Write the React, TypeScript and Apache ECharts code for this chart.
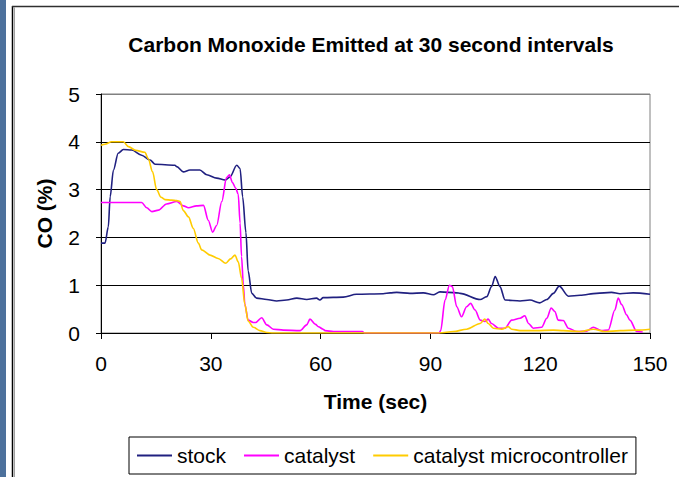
import React, { useEffect, useRef } from "react";
import * as echarts from "echarts";

const seriesNames = ["stock", "catalyst", "catalyst microcontroller"];

const stockTime = [0, 1.1, 2, 2.5, 3.4, 4.7, 6.1, 8.4, 11.1, 13.4, 14.8, 20.2, 20.7, 22.5, 24.3, 27, 28.9, 31.6, 33.9, 35.2, 37.1, 38, 38.7, 39.6, 40.2, 41.2, 42.5, 45.3, 48, 50.7, 53.5, 56.2, 58.9, 59.8, 60.7, 66.2, 69.8, 77.1, 79, 80.8, 84.4, 88.1, 90.8, 92.6, 97.2, 98.1, 103.6, 105.4, 106.7, 107.7, 109, 110.4, 114.5, 117.2, 119.9, 121.8, 123.6, 125.2, 127.7, 130.9, 135.4, 139.5, 141.8, 145.4, 150];
const stockCO = [1.88, 1.88, 2.22, 2.85, 3.41, 3.76, 3.84, 3.83, 3.72, 3.62, 3.53, 3.51, 3.48, 3.37, 3.41, 3.41, 3.31, 3.24, 3.2, 3.26, 3.51, 3.44, 2.85, 2.1, 1.3, 0.83, 0.73, 0.7, 0.67, 0.69, 0.73, 0.7, 0.73, 0.69, 0.74, 0.75, 0.81, 0.82, 0.84, 0.85, 0.83, 0.84, 0.8, 0.86, 0.84, 0.83, 0.7, 0.76, 0.97, 1.18, 0.97, 0.69, 0.67, 0.69, 0.63, 0.7, 0.83, 0.98, 0.77, 0.79, 0.83, 0.85, 0.82, 0.84, 0.81];

const catalystTime = [0, 11.1, 12.5, 13.9, 15.7, 17.9, 20.7, 22.5, 23.9, 26.1, 28, 29.3, 30.5, 31.6, 33, 34.3, 35.1, 35.9, 36.8, 37.5, 38, 38.4, 38.9, 39.3, 40.2, 41.6, 42.3, 43.9, 45.3, 47.1, 49.8, 54.4, 56.2, 57.1, 58.6, 59.4, 60.7, 61.2, 63.5, 71.4, 72, 92.4, 92.8, 94, 95.2, 96, 97.2, 98.5, 99.9, 101, 102.2, 103.6, 104.9, 105.8, 106.7, 108.6, 110.4, 112.2, 114.5, 115.8, 116.8, 118.1, 120.4, 121.8, 123, 124, 124.9, 126.3, 127.7, 130, 132.7, 134.5, 136.8, 138.6, 140.4, 141.3, 142.3, 143.6, 144.5, 146.4, 148];
const catalystCO = [2.73, 2.73, 2.62, 2.54, 2.57, 2.7, 2.75, 2.66, 2.62, 2.66, 2.67, 2.36, 2.11, 2.25, 2.75, 3.25, 3.31, 3.15, 3.03, 2.9, 2.3, 1.6, 1.0, 0.6, 0.27, 0.22, 0.22, 0.32, 0.17, 0.08, 0.06, 0.05, 0.17, 0.29, 0.18, 0.13, 0.08, 0.05, 0.03, 0.03, 0, 0, 0.05, 0.69, 1.0, 0.97, 0.55, 0.34, 0.55, 0.62, 0.48, 0.27, 0.24, 0.29, 0.2, 0.1, 0.1, 0.27, 0.31, 0.36, 0.2, 0.1, 0.12, 0.31, 0.52, 0.45, 0.27, 0.26, 0.1, 0.03, 0.04, 0.12, 0.05, 0.06, 0.48, 0.73, 0.59, 0.38, 0.27, 0.03, 0.02];

const microTime = [0, 1.1, 2.9, 6.1, 7.5, 9.5, 12, 12.9, 14.1, 15.2, 16.4, 17.5, 19.3, 20.7, 21.6, 22.5, 23.9, 25.2, 26.6, 27.5, 29.8, 32, 34.1, 35.4, 36.6, 37.5, 38.4, 39.3, 40.2, 41.6, 43.4, 45.3, 47, 92.5, 96.3, 99.9, 103.6, 104.9, 105.8, 107.2, 109.5, 111.3, 112.2, 114.5, 119, 123.6, 126.3, 130.9, 134.5, 137.8, 141.8, 146.4, 150];
const microCO = [3.93, 3.95, 4.0, 4.0, 3.9, 3.82, 3.78, 3.65, 3.37, 3.0, 2.84, 2.79, 2.78, 2.77, 2.75, 2.56, 2.43, 2.19, 1.88, 1.74, 1.63, 1.56, 1.46, 1.55, 1.63, 1.49, 1.15, 0.6, 0.25, 0.12, 0.05, 0.01, 0, 0, 0.03, 0.08, 0.2, 0.29, 0.2, 0.1, 0.08, 0.13, 0.08, 0.05, 0.05, 0.06, 0.05, 0.03, 0.08, 0.03, 0.05, 0.06, 0.08];

const seriesColors = ["#202080", "#ff00ff", "#ffcc00"];

const pairs = (t: number[], v: number[]) => t.map((x, i) => [x, v[i]]);

export default function App() {
  const ref = useRef<HTMLDivElement>(null);
  useEffect(() => {
    const chart = echarts.init(ref.current!, null, { renderer: "svg" });
    const font = "'Liberation Sans', Arial, sans-serif";
    const mk = (i: number, t: number[], v: number[]) => ({
      name: seriesNames[i],
      type: "line",
      data: pairs(t, v),
      symbol: "none",
      showSymbol: false,
      smooth: 0.3,
      smoothMonotone: "x",
      lineStyle: { color: seriesColors[i], width: 1.6 },
      itemStyle: { color: seriesColors[i] },
    });
    chart.setOption({
      animation: false,
      backgroundColor: "#ffffff",
      textStyle: { fontFamily: font },
      graphic: [
        { type: "rect", shape: { x: 0, y: 0, width: 6, height: 477 }, style: { fill: "#4d719c" } },
        { type: "line", shape: { x1: 12.5, y1: 6, x2: 12.5, y2: 477 }, style: { stroke: "#000", lineWidth: 1.5 } },
        { type: "line", shape: { x1: 14.5, y1: 7.5, x2: 14.5, y2: 477 }, style: { stroke: "#a0a0a0", lineWidth: 1 } },
        { type: "line", shape: { x1: 12, y1: 6.5, x2: 679, y2: 6.5 }, style: { stroke: "#303030", lineWidth: 1.5 } },
        {
          type: "text",
          x: 371,
          y: 44,
          style: {
            text: "Carbon Monoxide Emitted at 30 second intervals",
            fontFamily: font,
            fontSize: 21,
            fontWeight: "bold",
            fill: "#000",
            textAlign: "center",
            textVerticalAlign: "middle",
          },
        },
      ],
      grid: { left: 101, top: 94, width: 549, height: 239, show: true, borderColor: "#808080", borderWidth: 1, backgroundColor: "transparent" },
      xAxis: {
        type: "value",
        min: 0,
        max: 150,
        interval: 30,
        name: "Time (sec)",
        nameLocation: "middle",
        nameGap: 58,
        nameTextStyle: { fontSize: 21, fontWeight: "bold", color: "#000", fontFamily: font },
        axisLine: { show: true, onZero: false, lineStyle: { color: "#000", width: 1 } },
        axisTick: { show: true, length: 6, lineStyle: { color: "#000" } },
        axisLabel: { fontSize: 21, color: "#000", margin: 20, fontFamily: font },
        splitLine: { show: false },
      },
      yAxis: {
        type: "value",
        min: 0,
        max: 5,
        interval: 1,
        name: "CO (%)",
        nameLocation: "middle",
        nameGap: 46,
        nameTextStyle: { fontSize: 21, fontWeight: "bold", color: "#000", fontFamily: font },
        axisLine: { show: true, lineStyle: { color: "#000", width: 1 } },
        axisTick: { show: true, length: 5, lineStyle: { color: "#000" } },
        axisLabel: { fontSize: 21, color: "#000", margin: 21, fontFamily: font },
        splitLine: { show: true, lineStyle: { color: ["#000", "#000", "#000", "#000", "#000", "#808080"], width: 1 } },
      },
      legend: {
        left: 129,
        top: 437,
        padding: [8, 8],
        itemGap: 18,
        itemWidth: 35,
        itemHeight: 2,
        icon: "rect",
        borderColor: "#000",
        borderWidth: 1,
        backgroundColor: "#fff",
        textStyle: { fontSize: 21, color: "#000", fontFamily: font },
        data: seriesNames,
      },
      series: [mk(0, stockTime, stockCO), mk(1, catalystTime, catalystCO), mk(2, microTime, microCO)],
    });
    return () => chart.dispose();
  }, []);
  return <div ref={ref} style={{ position: "fixed", left: 0, top: 0, width: 679, height: 477 }} />;
}
